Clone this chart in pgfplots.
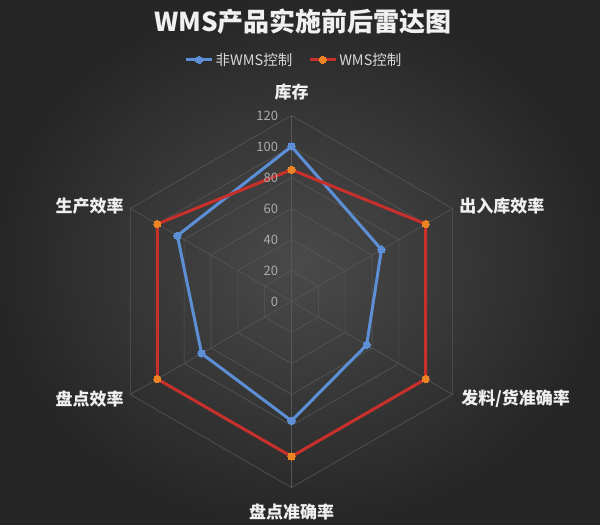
\documentclass[border=0pt]{standalone}
\usepackage{fontspec}
\setmainfont{Noto Sans CJK SC}
\usepackage{pgfplots}
\pgfplotsset{compat=1.18}
\usepgfplotslibrary{polar}

\definecolor{bgin}{HTML}{4A4A4A}
\definecolor{bgout}{HTML}{262626}
\definecolor{gridc}{HTML}{575757}
\definecolor{bluel}{HTML}{5D8FD6}
\definecolor{redl}{HTML}{C8302C}
\definecolor{orangem}{HTML}{EC8424}
\definecolor{ticklab}{HTML}{ABABAB}
\definecolor{legtext}{HTML}{D8D8D8}
\definecolor{labc}{HTML}{F0F0F0}

\begin{document}
\begin{tikzpicture}
\shade[inner color=bgin, outer color=bgout] (0,0) rectangle (600pt,525pt);
\begin{axis}[
    at={(0,0)}, anchor=south west,
    width=600pt, height=525pt, scale only axis,
    xmin=-188.06, xmax=199.03, ymin=-144.19, ymax=194.52,
    hide axis, clip=false,
    legend columns=2,
    legend style={at={(rel axis cs:0.49,0.886)}, anchor=center,
        draw=none, fill=none, text=legtext,
        font=\fontsize{14.5}{16}\selectfont,
        nodes={inner xsep=2pt},
        /tikz/every even column/.append style={column sep=14pt}},
    legend image code/.code={%
        \draw[mark repeat=2,mark phase=2,#1,line width=3pt]
        plot coordinates {(0pt,0pt) (13pt,0pt) (26pt,0pt)};},
]
% grid: rings and spokes
\addplot[gridc, line width=0.6pt, data cs=polar, forget plot] coordinates {(90,20) (30,20) (-30,20) (-90,20) (-150,20) (150,20) (90,20)};
\addplot[gridc, line width=0.6pt, data cs=polar, forget plot] coordinates {(90,40) (30,40) (-30,40) (-90,40) (-150,40) (150,40) (90,40)};
\addplot[gridc, line width=0.6pt, data cs=polar, forget plot] coordinates {(90,60) (30,60) (-30,60) (-90,60) (-150,60) (150,60) (90,60)};
\addplot[gridc, line width=0.6pt, data cs=polar, forget plot] coordinates {(90,80) (30,80) (-30,80) (-90,80) (-150,80) (150,80) (90,80)};
\addplot[gridc, line width=0.6pt, data cs=polar, forget plot] coordinates {(90,100) (30,100) (-30,100) (-90,100) (-150,100) (150,100) (90,100)};
\addplot[gridc, line width=0.6pt, data cs=polar, forget plot] coordinates {(90,120) (30,120) (-30,120) (-90,120) (-150,120) (150,120) (90,120)};
\addplot[gridc, line width=0.6pt, data cs=polar, forget plot] coordinates {(90,0) (90,120)};
\addplot[gridc, line width=0.6pt, data cs=polar, forget plot] coordinates {(30,0) (30,120)};
\addplot[gridc, line width=0.6pt, data cs=polar, forget plot] coordinates {(-30,0) (-30,120)};
\addplot[gridc, line width=0.6pt, data cs=polar, forget plot] coordinates {(-90,0) (-90,120)};
\addplot[gridc, line width=0.6pt, data cs=polar, forget plot] coordinates {(-150,0) (-150,120)};
\addplot[gridc, line width=0.6pt, data cs=polar, forget plot] coordinates {(150,0) (150,120)};

% 非WMS控制
\addplot[bluel, line width=3pt, line join=round, data cs=polar, mark=*, mark size=3.6pt,
    mark options={fill=bluel, draw=bluel, line width=0pt}]
    coordinates {(90,100) (30,67) (-30,56) (-90,77) (-150,67) (150,85) (90,100)};
\addlegendentry{非WMS控制}
% WMS控制
\addplot[redl, line width=3pt, line join=round, data cs=polar, mark=*, mark size=3.6pt,
    mark options={fill=orangem, draw=orangem, line width=0pt}]
    coordinates {(90,85) (30,100) (-30,100) (-90,100) (-150,100) (150,100) (90,85)};
\addlegendentry{WMS控制}

% radial tick labels
\begin{scope}[every node/.style={anchor=east, inner sep=0pt, text=ticklab, font=\fontsize{13}{15}\selectfont}]
\node at (axis cs:-8.5,0) {0};
\node at (axis cs:-8.5,20) {20};
\node at (axis cs:-8.5,40) {40};
\node at (axis cs:-8.5,60) {60};
\node at (axis cs:-8.5,80) {80};
\node at (axis cs:-8.5,100) {100};
\node at (axis cs:-8.5,120) {120};
\end{scope}

% category labels
\begin{scope}[every node/.style={inner sep=0pt, text=labc, font=\fontsize{17}{20}\selectfont\bfseries}]
\node[anchor=center] at (axis cs:0,135.2) {库存};
\node[anchor=west] at (axis cs:108.1,61.6) {出入库效率};
\node[anchor=west] at (axis cs:109.4,-62.9) {发料/货准确率};
\node[anchor=center] at (axis cs:0,-135.6) {盘点准确率};
\node[anchor=east] at (axis cs:-108.1,-62.9) {盘点效率};
\node[anchor=east] at (axis cs:-108.1,61.6) {生产效率};
\end{scope}

% title
\node[text=labc, font=\fontsize{26}{30}\selectfont\bfseries] at (axis cs:7.4,180.3) {WMS产品实施前后雷达图};
\end{axis}
\end{tikzpicture}
\end{document}
